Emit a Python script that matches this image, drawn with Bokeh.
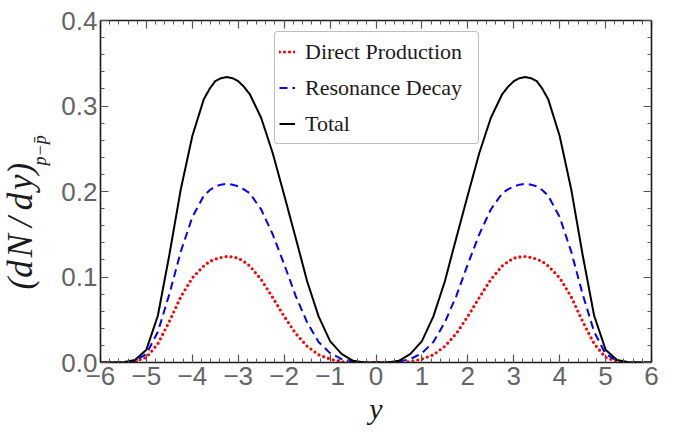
from bokeh.plotting import figure
from bokeh.models import (Range1d, LinearAxis, Legend, LegendItem, Title,
                          FixedTicker)
from bokeh.embed import file_html
from bokeh.resources import INLINE

# rapidity grid (denser around the maxima)
rapidity = [-6.0, -5.75, -5.5, -5.25, -5.0, -4.75, -4.5, -4.25, -4.0, -3.75,
            -3.625, -3.5, -3.375, -3.25, -3.125, -3.0, -2.875, -2.75,
            -2.5, -2.25, -2.0, -1.75, -1.5, -1.25, -1.0, -0.75, -0.5, -0.25, 0.0,
            0.25, 0.5, 0.75, 1.0, 1.25, 1.5, 1.75, 2.0, 2.25, 2.5,
            2.75, 2.875, 3.0, 3.125, 3.25, 3.375, 3.5, 3.625, 3.75,
            4.0, 4.25, 4.5, 4.75, 5.0, 5.25, 5.5, 5.75, 6.0]

# net-proton rapidity density, direct production
direct = [0, 0, 0, 0.001, 0.006, 0.022, 0.048, 0.077, 0.099, 0.113,
          0.118, 0.121, 0.1228, 0.124, 0.1235, 0.122, 0.118, 0.113,
          0.097, 0.076, 0.054, 0.034, 0.019, 0.009, 0.004, 0.001, 0, 0, 0,
          0, 0, 0.001, 0.004, 0.009, 0.019, 0.034, 0.054, 0.076, 0.097,
          0.113, 0.118, 0.122, 0.1235, 0.124, 0.1228, 0.121, 0.118, 0.113,
          0.099, 0.077, 0.048, 0.022, 0.006, 0.001, 0, 0, 0]

# contribution from resonance decays
resonance = [0, 0, 0, 0.002, 0.010, 0.036, 0.080, 0.130, 0.170, 0.195,
             0.2015, 0.206, 0.208, 0.209, 0.208, 0.206, 0.2025, 0.198,
             0.179, 0.150, 0.115, 0.078, 0.047, 0.024, 0.011, 0.004, 0.001, 0, 0,
             0, 0.001, 0.004, 0.011, 0.024, 0.047, 0.078, 0.115, 0.150, 0.179,
             0.198, 0.2025, 0.206, 0.208, 0.209, 0.208, 0.206, 0.2015, 0.195,
             0.170, 0.130, 0.080, 0.036, 0.010, 0.002, 0, 0, 0]

# total
total = [0, 0, 0.0003, 0.003, 0.015, 0.055, 0.126, 0.203, 0.265, 0.308,
         0.320, 0.329, 0.3325, 0.334, 0.3325, 0.329, 0.3225, 0.314,
         0.286, 0.245, 0.196, 0.146, 0.095, 0.054, 0.025, 0.010, 0.002, 0, 0,
         0, 0.002, 0.010, 0.025, 0.054, 0.095, 0.146, 0.196, 0.245, 0.286,
         0.314, 0.3225, 0.329, 0.3325, 0.334, 0.3325, 0.329, 0.320, 0.308,
         0.265, 0.203, 0.126, 0.055, 0.015, 0.003, 0.0003, 0, 0]

x_major = [-6, -5, -4, -3, -2, -1, 0, 1, 2, 3, 4, 5, 6]
x_labels = ["\u22126", "\u22125", "\u22124", "\u22123", "\u22122", "\u22121",
            "0", "1", "2", "3", "4", "5", "6"]
y_major = [0.0, 0.1, 0.2, 0.3, 0.4]
y_labels = ["0.0", "0.1", "0.2", "0.3", "0.4"]

x_minor = [round(-6 + 0.2 * i, 2) for i in range(61)]
y_minor = [round(0.02 * i, 3) for i in range(21)]

p = figure(width=673, height=432, x_range=Range1d(-6, 6), y_range=Range1d(0, 0.4),
           x_axis_type=None, y_axis_type=None,
           output_backend="svg", toolbar_location=None,
           min_border_left=100, min_border_right=22, min_border_top=20,
           min_border_bottom=70)
p.outline_line_color = None
p.background_fill_color = "white"
p.border_fill_color = "white"

xt = FixedTicker(ticks=x_major, minor_ticks=x_minor)
yt = FixedTicker(ticks=y_major, minor_ticks=y_minor)

bottom_axis = LinearAxis(ticker=xt)
left_axis = LinearAxis(ticker=yt)
top_axis = LinearAxis(ticker=xt)
right_axis = LinearAxis(ticker=yt)
p.add_layout(bottom_axis, "below")
p.add_layout(left_axis, "left")
p.add_layout(top_axis, "above")
p.add_layout(right_axis, "right")

for ax in (bottom_axis, left_axis, top_axis, right_axis):
    ax.axis_line_color = "#1a1a1a"
    ax.axis_line_width = 1.6
    ax.major_tick_in = 8
    ax.major_tick_out = 0
    ax.minor_tick_in = 4
    ax.minor_tick_out = 0
    ax.major_tick_line_color = "#555555"
    ax.minor_tick_line_color = "#555555"
    ax.major_tick_line_width = 1.2
    ax.minor_tick_line_width = 1.0
    ax.major_label_text_font = "Liberation Sans"
    ax.major_label_text_font_size = "26px"
    ax.major_label_text_color = "#646464"

for ax in (top_axis, right_axis):
    ax.major_label_overrides = {t: "" for t in (x_major if ax is top_axis else y_major)}
    ax.major_label_standoff = 0

bottom_axis.major_label_overrides = dict(zip(x_major, x_labels))
left_axis.major_label_overrides = dict(zip(y_major, y_labels))
bottom_axis.major_label_standoff = 4
left_axis.major_label_standoff = 3

bottom_axis.axis_label = "y"
bottom_axis.axis_label_text_font = "Liberation Serif"
bottom_axis.axis_label_text_font_style = "italic"
bottom_axis.axis_label_text_font_size = "30px"
bottom_axis.axis_label_text_color = "#1a1a1a"
bottom_axis.axis_label_standoff = 4

r_direct = p.line(rapidity, direct, line_color="#ff0000", line_width=3.2,
                  line_dash="0 5", line_cap="round")
r_reso = p.line(rapidity, resonance, line_color="#0000ff", line_width=2.0,
                line_dash="8 5")
r_total = p.line(rapidity, total, line_color="black", line_width=2.0)

legend = Legend(items=[
    LegendItem(label="Direct Production", renderers=[r_direct]),
    LegendItem(label="Resonance Decay", renderers=[r_reso]),
    LegendItem(label="Total", renderers=[r_total]),
], location=(174, 218))
legend.label_text_font = "Liberation Serif"
legend.label_text_font_size = "22px"
legend.label_text_color = "#1a1a1a"
legend.glyph_width = 16
legend.glyph_height = 31
legend.label_height = 31
legend.label_width = 169
legend.label_standoff = 10
legend.spacing = 5
legend.padding = 4
legend.margin = 0
legend.border_line_color = "#7f7f7f"
legend.border_line_width = 1
legend.background_fill_color = "white"
legend.background_fill_alpha = 1.0
if hasattr(Legend, "border_radius"):
    legend.border_radius = 4
p.add_layout(legend)

# vertical axis title: subscript next to the axis, main symbol tucked beside it
sub_title = Title(text="p\u2212p\u0304", align="left", offset=197, standoff=18,
                  text_font="Liberation Serif", text_font_style="italic",
                  text_font_size="18px", text_color="#1a1a1a")
main_title = Title(text="(d\u200aN\u2009/\u2009d\u200ay)", align="left",
                   offset=73, standoff=-43,
                   text_font="Liberation Serif", text_font_style="italic",
                   text_font_size="35px", text_color="#1a1a1a")
p.add_layout(sub_title, "left")
p.add_layout(main_title, "left")

open("out.html", "w").write(file_html(p, INLINE))
